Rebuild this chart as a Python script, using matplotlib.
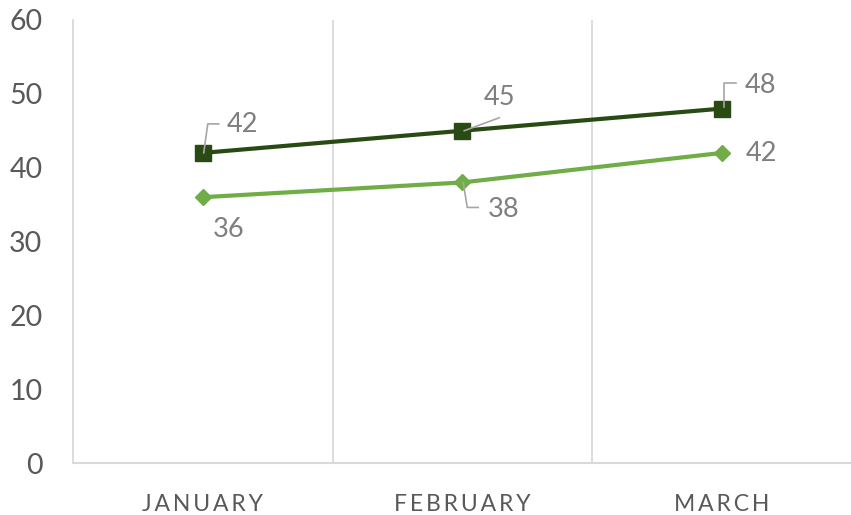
import numpy as np
import matplotlib.pyplot as plt

months = ["JANUARY", "FEBRUARY", "MARCH"]
series_dark = [42, 45, 48]
series_light = [36, 38, 42]

# label placement (pixel offsets from the marker) and leader line paths
dark_label_off = [(40, 28), (37, 33), (39, 23)]
dark_leaders = [[(1, 0), (5, 29), (16, 29)], [(2, 0), (37, 13)], [(2, 2), (2, 26), (14, 26)]]
light_label_off = [(26, -32), (41, -27), (40, -1)]
light_leaders = [None, [(1, 0), (5, -25), (16, -25)], None]

DARK = "#294a12"
LIGHT = "#70ad47"
GRID = "#d9d9d9"
FONT = ["Lato", "DejaVu Sans"]

plt.rcParams['font.family'] = FONT

fig = plt.figure(figsize=(8.51, 5.15), dpi=100)
W, H = 851, 515
ax = fig.add_axes([73 / W, (H - 463) / H, 1 - 73 / W, (463 - 20) / H])

x = np.arange(len(months))
ax.set_xlim(-0.5, -0.5 + (851 - 73) / 259.5)
ax.set_ylim(0, 60)

for b in [0.5, 1.5]:
    ax.axvline(b, color=GRID, lw=1.3, zorder=0)

for s in ["top", "right"]:
    ax.spines[s].set_visible(False)
ax.spines["left"].set_color(GRID)
ax.spines["left"].set_linewidth(1.3)
ax.spines["bottom"].set_color(GRID)
ax.spines["bottom"].set_linewidth(1.5)

ax.plot(x, series_dark, color=DARK, lw=3, marker="s", ms=11, zorder=3)
ax.plot(x, series_light, color=LIGHT, lw=3, marker="D", ms=8.5, zorder=3)

ax.set_yticks(range(0, 61, 10))
ax.tick_params(axis="y", length=0, pad=22, labelsize=20.5, labelcolor="#595959")
ax.set_xticks(x)
ax.set_xticklabels(["\u2009".join(m) for m in months])
ax.tick_params(axis="x", length=0, pad=22, labelsize=16.5, labelcolor="#595959")


def px_to_data(i, v, offs):
    base = ax.transData.transform((i, v))
    pts = np.array([base + np.array(o) for o in offs])
    return ax.transData.inverted().transform(pts)


def label_series(vals, label_offs, leaders):
    for i, v in enumerate(vals):
        ax.annotate(str(v), (i, v), xytext=(label_offs[i][0] * 0.72, label_offs[i][1] * 0.72),
                    textcoords="offset points", ha="center", va="center",
                    fontsize=19.5, color="#7f7f7f", zorder=5)
        if leaders[i] is not None:
            d = px_to_data(i, v, leaders[i])
            ax.plot(d[:, 0], d[:, 1], color="#a6a6a6", lw=1.2, zorder=4)


label_series(series_dark, dark_label_off, dark_leaders)
label_series(series_light, light_label_off, light_leaders)

fig.savefig("out.png", dpi=100)
